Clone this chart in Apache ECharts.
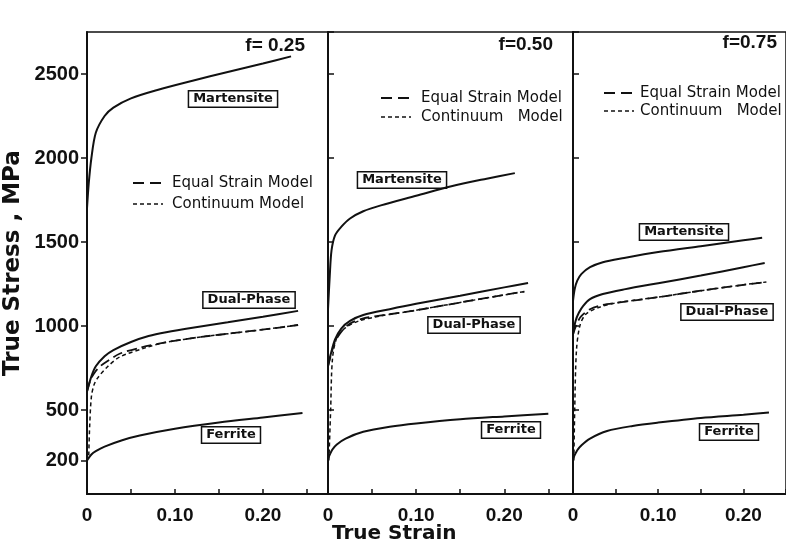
<!DOCTYPE html>
<html>
<head>
<meta charset="utf-8">
<script src="https://cdn.jsdelivr.net/npm/echarts@6/dist/echarts.min.js"></script>
<style>html,body{margin:0;padding:0;background:#fff}#c{width:786px;height:548px}</style>
</head>
<body>
<div id="c"></div>
<script>
// ---- data (true strain, true stress MPa) ----
const panelTitles = ['f= 0.25', 'f=0.50', 'f=0.75'];
const yTickLabels = [200, 500, 1000, 1500, 2000, 2500];
const xTickLabels = [0, 0.1, 0.2];

// f = 0.25
const martensite25 = [[0,1700],[0.002,1850],[0.005,2000],[0.01,2150],[0.02,2250],[0.03,2300],[0.05,2355],[0.08,2405],[0.12,2460],[0.16,2512],[0.2,2562],[0.232,2605]];
const dualPhase25 = [[0,610],[0.005,700],[0.01,760],[0.02,820],[0.03,857],[0.05,905],[0.07,940],[0.09,963],[0.12,990],[0.16,1022],[0.2,1055],[0.24,1090]];
const equalStrain25 = [[0,610],[0.004,680],[0.009,725],[0.015,760],[0.023,790],[0.037,835],[0.06,870],[0.09,903],[0.13,935],[0.17,960],[0.21,985],[0.24,1006]];
const continuum25 = [[0.002,230],[0.003,400],[0.005,580],[0.008,650],[0.012,690],[0.023,756],[0.037,815],[0.068,873],[0.09,903],[0.13,935],[0.17,960],[0.21,985],[0.24,1006]];
const ferrite25 = [[0,200],[0.005,235],[0.01,255],[0.02,282],[0.04,320],[0.06,348],[0.1,388],[0.15,425],[0.2,455],[0.245,482]];

// f = 0.50
const martensite50 = [[0,1100],[0.002,1300],[0.004,1450],[0.008,1540],[0.015,1590],[0.025,1640],[0.04,1683],[0.06,1718],[0.1,1775],[0.14,1832],[0.18,1877],[0.212,1910]];
const dualPhase50 = [[0,760],[0.003,830],[0.008,920],[0.015,985],[0.025,1030],[0.04,1065],[0.07,1100],[0.1,1132],[0.15,1180],[0.2,1230],[0.227,1256]];
const equalStrain50 = [[0,760],[0.003,820],[0.008,905],[0.015,965],[0.025,1015],[0.04,1045],[0.07,1070],[0.1,1094],[0.15,1140],[0.2,1185],[0.223,1205]];
const continuum50 = [[0.001,200],[0.003,500],[0.005,800],[0.01,930],[0.02,990],[0.035,1030],[0.06,1060],[0.1,1094],[0.15,1140],[0.2,1185],[0.223,1205]];
const ferrite50 = [[0,210],[0.005,265],[0.01,295],[0.02,330],[0.04,370],[0.07,400],[0.1,420],[0.15,445],[0.2,462],[0.25,478]];

// f = 0.75
const martensite75 = [[0,1150],[0.002,1220],[0.005,1270],[0.01,1310],[0.02,1350],[0.035,1380],[0.06,1405],[0.1,1440],[0.15,1475],[0.2,1510],[0.222,1525]];
const dualPhase75 = [[0,950],[0.003,1030],[0.007,1080],[0.012,1120],[0.02,1160],[0.035,1190],[0.06,1218],[0.1,1255],[0.15,1300],[0.2,1350],[0.225,1375]];
const equalStrain75 = [[0,950],[0.005,1020],[0.01,1060],[0.02,1100],[0.035,1125],[0.05,1137],[0.1,1172],[0.15,1210],[0.2,1245],[0.227,1262]];
const continuum75 = [[0.001,200],[0.002,500],[0.004,850],[0.008,1000],[0.015,1070],[0.03,1110],[0.05,1137],[0.1,1172],[0.15,1210],[0.2,1245],[0.227,1262]];
const ferrite75 = [[0,210],[0.005,260],[0.01,290],[0.02,330],[0.04,375],[0.07,405],[0.1,425],[0.15,453],[0.2,472],[0.23,485]];

const panels = [
  {m: martensite25, d: dualPhase25, e: equalStrain25, c: continuum25, f: ferrite25},
  {m: martensite50, d: dualPhase50, e: equalStrain50, c: continuum50, f: ferrite50},
  {m: martensite75, d: dualPhase75, e: equalStrain75, c: continuum75, f: ferrite75}
];

// ---- layout ----
const INK = '#111';
const gridsPx = [
  {left: 87, width: 241, xMax: 0.274},
  {left: 328, width: 245, xMax: 0.278},
  {left: 573, width: 220, xMax: 0.25}
];
const TOP = 32, HEIGHT = 462;

const grid = [], xAxis = [], yAxis = [], series = [];
gridsPx.forEach((g, i) => {
  grid.push({left: g.left, top: TOP, width: g.width, height: HEIGHT, show: true,
    borderColor: INK, borderWidth: 1.5, backgroundColor: 'transparent'});
  xAxis.push({
    type: 'value', gridIndex: i, min: 0, max: g.xMax, interval: 0.05,
    axisLine: {show: true, onZero: false, lineStyle: {color: INK, width: 2}},
    axisTick: {show: true, inside: true, length: 5, lineStyle: {color: INK, width: 1.5}},
    axisLabel: {show: true, customValues: xTickLabels, color: INK, margin: 12,
      fontFamily: 'Liberation Sans', fontWeight: 'bold', fontSize: 19,
      formatter: v => (v === 0 ? '0' : v.toFixed(2))},
    splitLine: {show: false}
  });
  const y = {
    type: 'value', gridIndex: i, min: 0, max: 2750,
    axisLine: {show: true, onZero: false, lineStyle: {color: INK, width: 2}},
    splitLine: {show: false}
  };
  if (i === 0) {
    y.interval = 100;
    y.axisTick = {show: true, inside: false, length: 6, customValues: yTickLabels, lineStyle: {color: INK, width: 1.5}};
    y.axisLabel = {show: true, customValues: yTickLabels, color: INK, margin: 8,
      fontFamily: 'Liberation Sans', fontWeight: 'bold', fontSize: 20,
      formatter: v => String(v)};
    y.name = 'True Stress , MPa';
    y.nameLocation = 'middle';
    y.nameGap = 62;
    y.nameRotate = 90;
    y.nameTextStyle = {color: INK, fontFamily: 'DejaVu Sans', fontWeight: 'bold', fontSize: 23};
  } else {
    y.interval = 500;
    y.axisTick = {show: true, inside: true, length: 6, lineStyle: {color: INK, width: 1.5}};
    y.axisLabel = {show: false};
  }
  yAxis.push(y);

  const p = panels[i];
  const solid = {type: 'solid', width: 2, color: INK};
  const mk = (name, data, ls) => ({
    name, type: 'line', xAxisIndex: i, yAxisIndex: i, data, showSymbol: false,
    smooth: 0.3, lineStyle: ls, silent: true, animation: false
  });
  series.push(mk('Martensite', p.m, solid));
  series.push(mk('Dual-Phase', p.d, solid));
  series.push(mk('Ferrite', p.f, solid));
  series.push(mk('Equal Strain Model', p.e, {type: [10, 5], width: 1.8, color: INK}));
  series.push(mk('Continuum Model', p.c, {type: [4, 3], width: 1.5, color: INK}));
});

// ---- annotations ----
const boxFont = 'bold 13px "DejaVu Sans"';
const boxLabel = (text, x, y) => ({
  type: 'text', x, y, silent: true,
  style: {text, font: boxFont, fill: INK, align: 'center', verticalAlign: 'middle',
    backgroundColor: '#fff', borderColor: INK, borderWidth: 1.5, padding: [1, 4, 1, 4]}
});
const legFont = '15px "DejaVu Sans"';
const legend = (x, y1, y2, t1, t2, gap) => [
  {type: 'line', silent: true, shape: {x1: x, y1: y1, x2: x + 30, y2: y1}, style: {stroke: INK, lineWidth: 1.8, lineDash: [11, 6]}},
  {type: 'line', silent: true, shape: {x1: x, y1: y2, x2: x + 30, y2: y2}, style: {stroke: INK, lineWidth: 1.5, lineDash: [4, 3]}},
  {type: 'text', silent: true, x: x + gap, y: y1, style: {text: t1, font: legFont, fill: INK, verticalAlign: 'middle'}},
  {type: 'text', silent: true, x: x + gap, y: y2, style: {text: t2, font: legFont, fill: INK, verticalAlign: 'middle'}}
];
const titleFont = 'bold 19px "Liberation Sans"';
const graphic = [
  {type: 'text', silent: true, x: 305, y: 46, style: {text: panelTitles[0], font: titleFont, fill: INK, align: 'right', verticalAlign: 'middle'}},
  {type: 'text', silent: true, x: 553, y: 45, style: {text: panelTitles[1], font: titleFont, fill: INK, align: 'right', verticalAlign: 'middle'}},
  {type: 'text', silent: true, x: 777, y: 43, style: {text: panelTitles[2], font: titleFont, fill: INK, align: 'right', verticalAlign: 'middle'}},
  boxLabel('Martensite', 233, 99),
  boxLabel('Dual-Phase', 249, 300),
  boxLabel('Ferrite', 231, 435),
  boxLabel('Martensite', 402, 180),
  boxLabel('Dual-Phase', 474, 325),
  boxLabel('Ferrite', 511, 430),
  boxLabel('Martensite', 684, 232),
  boxLabel('Dual-Phase', 727, 312),
  boxLabel('Ferrite', 729, 432),
  ...legend(133, 183, 204, 'Equal Strain Model', 'Continuum Model', 39),
  ...legend(381, 98, 117, 'Equal Strain Model', 'Continuum   Model', 40),
  ...legend(604, 93, 111, 'Equal Strain Model', 'Continuum   Model', 36),
  {type: 'text', silent: true, x: 332, y: 534, style: {text: 'True Strain', font: 'bold 20px "DejaVu Sans"', fill: INK, verticalAlign: 'middle'}}
];

const chart = echarts.init(document.getElementById('c'), null, {renderer: 'canvas'});
chart.setOption({
  backgroundColor: '#fff',
  animation: false,
  grid, xAxis, yAxis, series, graphic
});
</script>
</body>
</html>
